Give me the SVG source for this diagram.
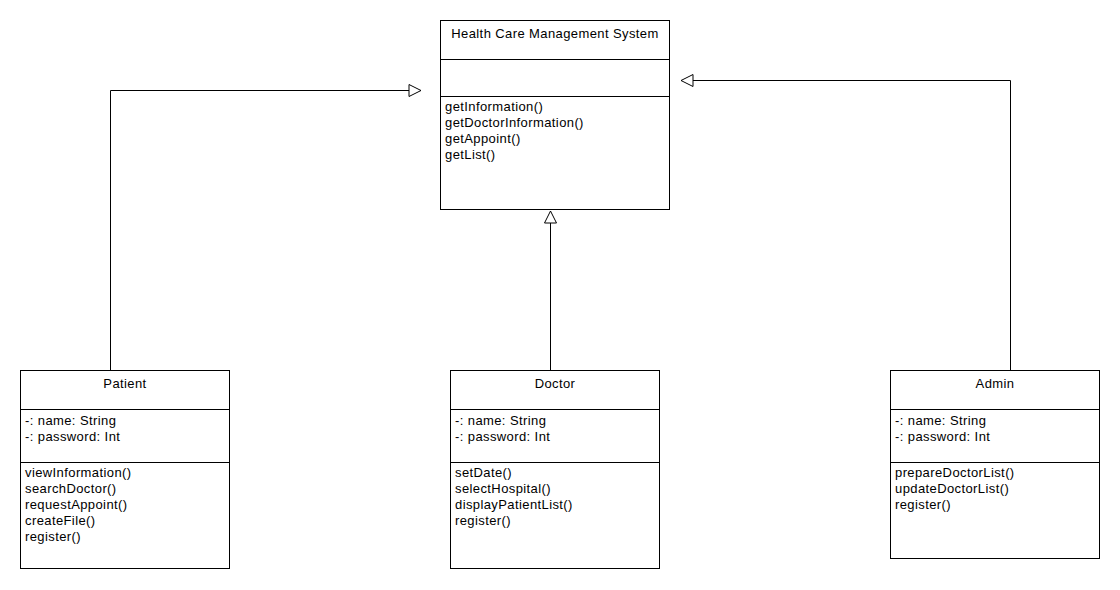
<svg xmlns="http://www.w3.org/2000/svg" width="1120" height="590" viewBox="0 0 1120 590">
<style>
.box{fill:#fff;stroke:#000;stroke-width:1}
.div{stroke:#000;stroke-width:1}
text{font-family:"Liberation Sans",Arial,sans-serif;font-size:13px;letter-spacing:0.4px;fill:#000}
.t{text-anchor:middle}
.c{fill:none;stroke:#000;stroke-width:1}
</style>
<defs>
<marker id="gen" viewBox="0 0 14 14" refX="13" refY="7" markerWidth="14" markerHeight="14" markerUnits="userSpaceOnUse" orient="auto">
<path d="M1,1 L13,7 L1,13 Z" fill="#fff" stroke="#000" stroke-width="1"/>
</marker>
</defs>
<rect width="1120" height="590" fill="#fff"/>
<g id="connectors">
<polyline class="c" points="110.5,370 110.5,90.5 421,90.5" marker-end="url(#gen)"/>
<polyline class="c" points="1010.5,370 1010.5,80.5 681,80.5" marker-end="url(#gen)"/>
<polyline class="c" points="550.5,370 550.5,211" marker-end="url(#gen)"/>
</g>
<g id="hcms">
<rect class="box" x="440.5" y="20.5" width="229" height="189"/>
<line class="div" x1="440.5" y1="59.5" x2="669.5" y2="59.5"/>
<line class="div" x1="440.5" y1="96.5" x2="669.5" y2="96.5"/>
<text class="t" x="555" y="38">Health Care Management System</text>
<text x="445" y="111">getInformation()</text>
<text x="445" y="127">getDoctorInformation()</text>
<text x="445" y="143">getAppoint()</text>
<text x="445" y="159">getList()</text>
</g>
<g id="patient">
<rect class="box" x="20.5" y="370.5" width="209" height="198"/>
<line class="div" x1="20.5" y1="409.5" x2="229.5" y2="409.5"/>
<line class="div" x1="20.5" y1="462.5" x2="229.5" y2="462.5"/>
<text class="t" x="125" y="388">Patient</text>
<text x="25" y="425">-: name: String</text>
<text x="25" y="441">-: password: Int</text>
<text x="25" y="477">viewInformation()</text>
<text x="25" y="493">searchDoctor()</text>
<text x="25" y="509">requestAppoint()</text>
<text x="25" y="525">createFile()</text>
<text x="25" y="541">register()</text>
</g>
<g id="doctor">
<rect class="box" x="450.5" y="370.5" width="209" height="198"/>
<line class="div" x1="450.5" y1="409.5" x2="659.5" y2="409.5"/>
<line class="div" x1="450.5" y1="462.5" x2="659.5" y2="462.5"/>
<text class="t" x="555" y="388">Doctor</text>
<text x="455" y="425">-: name: String</text>
<text x="455" y="441">-: password: Int</text>
<text x="455" y="477">setDate()</text>
<text x="455" y="493">selectHospital()</text>
<text x="455" y="509">displayPatientList()</text>
<text x="455" y="525">register()</text>
</g>
<g id="admin">
<rect class="box" x="890.5" y="370.5" width="209" height="188"/>
<line class="div" x1="890.5" y1="409.5" x2="1099.5" y2="409.5"/>
<line class="div" x1="890.5" y1="462.5" x2="1099.5" y2="462.5"/>
<text class="t" x="995" y="388">Admin</text>
<text x="895" y="425">-: name: String</text>
<text x="895" y="441">-: password: Int</text>
<text x="895" y="477">prepareDoctorList()</text>
<text x="895" y="493">updateDoctorList()</text>
<text x="895" y="509">register()</text>
</g>
</svg>
